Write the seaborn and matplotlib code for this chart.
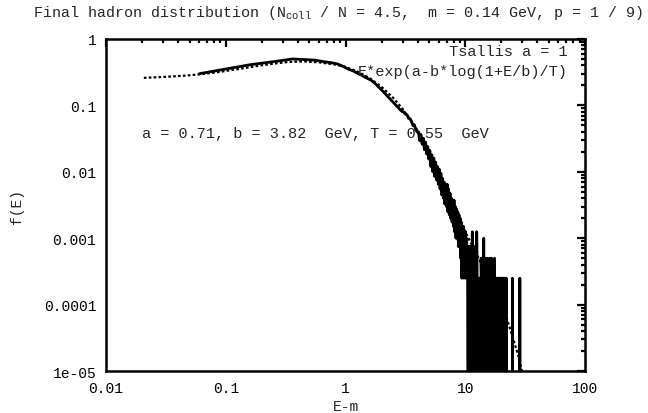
import numpy as np
import pandas as pd
import seaborn as sns
import matplotlib.pyplot as plt
from matplotlib.ticker import FixedLocator, FixedFormatter, LogLocator, NullFormatter

# histogram of E-m, bins 0.1 GeV wide (centres 0.06, 0.16, ...)
f_low = [0.30, 0.41, 0.46, 0.50, 0.49, 0.48, 0.455, 0.44, 0.42, 0.385,
         0.35, 0.33, 0.305, 0.285, 0.265, 0.25, 0.235, 0.215, 0.195, 0.178,
         0.162, 0.148, 0.136, 0.125, 0.116, 0.107, 0.099, 0.092, 0.086, 0.081]

# tail from E = 3.06 on, as counts per bin (one count = 2.5e-4)
count_unit = 2.5e-4
counts_tail = [
    318, 296, 290, 255, 252, 228, 198, 204, 172, 160,
    160, 118, 146, 104, 128, 86, 112, 74, 96, 62,
    84, 48, 72, 40, 64, 34, 56, 30, 48, 26,
    44, 22, 38, 18, 32, 16, 28, 13, 26, 12,
    26, 10, 22, 9, 19, 8, 16, 7, 15, 6,
    15, 5, 12, 4, 11, 4, 10, 3, 9, 3,
    8, 2, 7, 1, 6, 2, 6, 1, 5, 2,
    5, 1, 4, 2, 3, 0, 3, 1, 0, 3,
    1, 0, 3, 1, 5, 0, 1, 1, 0, 3,
    1, 0, 1, 0, 5, 1, 0, 1, 1, 0,
    1, 0, 1, 1, 0, 2, 1, 0, 1, 0,
    1, 0, 4, 0, 1, 1, 0, 2, 0, 1,
    0, 1, 2, 0, 1, 0, 1, 1, 0, 2,
    1, 0, 1, 0, 0, 2, 1, 0, 1, 0,
    1, 0, 1, 1, 0, 2, 0, 0, 1, 0,
    1, 0, 0, 1, 1, 0, 1, 0, 0, 1,
    0, 1, 0, 0, 1, 0, 1, 0, 0, 1,
    0, 0, 1, 0, 1, 0, 0, 1, 0, 0,
    1, 0, 0, 1, 0, 0, 0, 1, 0, 1,
    0, 0, 0, 0, 0, 0, 0, 0, 0, 0,
    0, 0, 0, 0, 0, 0, 0, 0, 0, 0,
    0, 0, 0, 0, 0, 0, 0, 1, 0, 0,
    0, 0, 0, 0, 0, 0, 0, 0, 0, 0,
    0, 0, 0, 0, 0, 0, 0, 0, 0, 0,
    0, 0, 0, 0, 0, 0, 0, 0, 0, 0,
    0, 0, 0, 0, 0, 1, 0, 0, 0, 0,
    0, 0, 0, 0, 0, 0, 0, 0, 0, 0,
]

# Tsallis fit curve
fit_e = [0.0207, 0.03, 0.045, 0.063, 0.09, 0.13, 0.18, 0.25, 0.33, 0.45,
         0.6, 0.8, 1.0, 1.3, 1.6, 2.0, 2.5, 3.0, 3.5, 4.0,
         4.5, 5.0, 6.0, 7.0, 8.0, 9.0, 10.3, 12, 14, 16,
         18, 20, 21.4, 24, 26, 28, 29.5, 30.5]
fit_f = [0.26, 0.268, 0.28, 0.295, 0.32, 0.355, 0.39, 0.425, 0.45, 0.46,
         0.445, 0.415, 0.38, 0.315, 0.255, 0.19, 0.13, 0.088, 0.060, 0.042,
         0.029, 0.020, 0.0095, 0.0050, 0.0029, 0.0018, 0.00112, 0.00065, 0.00038, 0.00024,
         0.000155, 0.000105, 0.000077, 0.000040, 0.000025, 0.000016, 0.0000105, 0.0000085]

x_ticks = [0.01, 0.1, 1, 10, 100]
x_labels = ['0.01', '0.1', '1', '10', '100']
y_ticks = [1e-5, 1e-4, 1e-3, 1e-2, 1e-1, 1]
y_labels = ['1e-05', '0.0001', '0.001', '0.01', '0.1', '1']

e_centres = np.round(np.arange(0.06, 30.0, 0.1), 2)
f_hist = np.concatenate([f_low, np.array(counts_tail) * count_unit])
f_hist = np.where(f_hist > 0, f_hist, 1e-9)  # empty bins drop below the axis
df_hist = pd.DataFrame({'E': e_centres, 'f': f_hist})
df_fit = pd.DataFrame({'E': fit_e, 'f': fit_f})

sns.set_style('white')
plt.rcParams['font.family'] = ['Liberation Mono', 'DejaVu Sans Mono']
plt.rcParams['mathtext.fontset'] = 'custom'
plt.rcParams['mathtext.rm'] = 'Liberation Mono'
plt.rcParams['mathtext.it'] = 'Liberation Mono'

fig = plt.figure(figsize=(6.48, 4.14), dpi=100)
ax = fig.add_axes([0.1636, 0.1014, 0.7392, 0.8020])

sns.lineplot(data=df_hist, x='E', y='f', ax=ax, color='black', lw=2.0,
             estimator=None, sort=False)
sns.lineplot(data=df_fit, x='E', y='f', ax=ax, color='black', lw=1.6,
             estimator=None, sort=False, linestyle=(0, (1.2, 1.0)))

ax.set_xscale('log')
ax.set_yscale('log')
ax.set_xlim(0.01, 100)
ax.set_ylim(1e-5, 1)

ax.xaxis.set_major_locator(FixedLocator(x_ticks))
ax.xaxis.set_major_formatter(FixedFormatter(x_labels))
ax.yaxis.set_major_locator(FixedLocator(y_ticks))
ax.yaxis.set_major_formatter(FixedFormatter(y_labels))
ax.xaxis.set_minor_locator(LogLocator(base=10, subs=np.arange(2, 10), numticks=20))
ax.yaxis.set_minor_locator(LogLocator(base=10, subs=np.arange(2, 10), numticks=20))
ax.xaxis.set_minor_formatter(NullFormatter())
ax.yaxis.set_minor_formatter(NullFormatter())
ax.tick_params(which='both', direction='in', top=True, right=True, width=1.6, labelsize=10.5,
               colors='black')
ax.tick_params(which='major', length=6, pad=7)
ax.tick_params(which='minor', length=3)
for s in ax.spines.values():
    s.set_linewidth(1.8)
    s.set_color('black')

ax.set_xlabel('E-m', fontsize=10.5, labelpad=3)
ax.set_ylabel('f(E)', fontsize=10.5, labelpad=14)

fig.text(0.522, 1 - 13 / 414,
         r'Final hadron distribution ($\mathrm{N}_{\mathrm{coll}}$ / N = 4.5,  m = 0.14 GeV, p = 1 / 9)',
         ha='center', va='center', fontsize=10.8)
ax.text(0.963, 0.965, 'Tsallis a = 1', transform=ax.transAxes, ha='right', va='center', fontsize=11)
ax.text(0.963, 0.903, 'E*exp(a-b*log(1+E/b)/T)', transform=ax.transAxes, ha='right', va='center',
        fontsize=11)
ax.text(0.075, 0.717, 'a = 0.71, b = 3.82  GeV, T = 0.55  GeV', transform=ax.transAxes,
        ha='left', va='center', fontsize=11)

fig.savefig('out.png', dpi=100)
